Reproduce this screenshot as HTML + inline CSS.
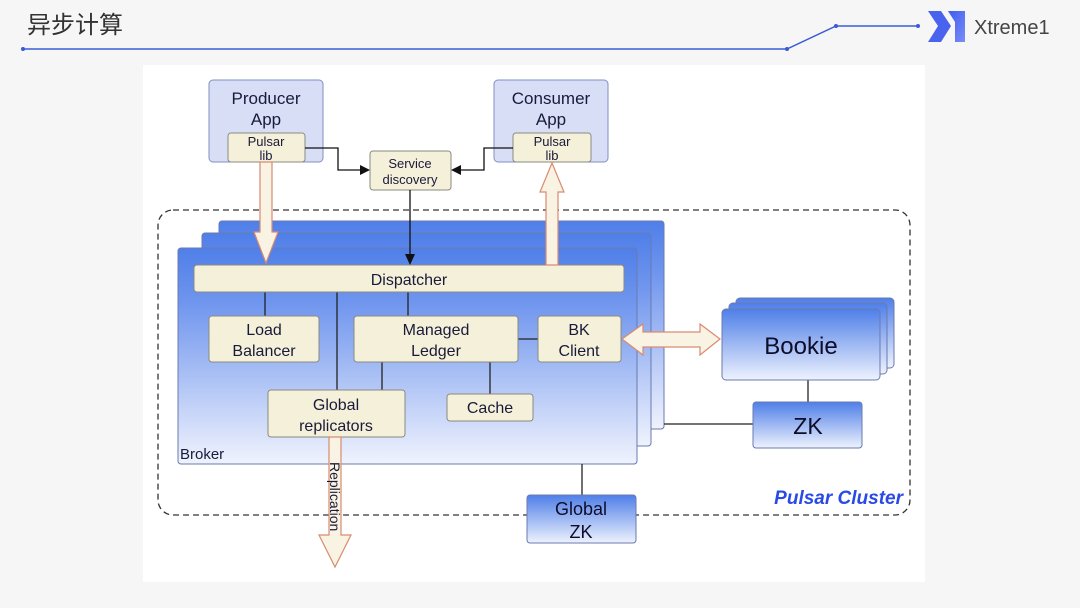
<!DOCTYPE html>
<html><head><meta charset="utf-8"><style>
html,body{margin:0;padding:0;background:#f6f6f6;}
svg{display:block;}
text{font-family:"Liberation Sans","DejaVu Sans",sans-serif;}
</style></head><body>
<svg width="1080" height="608" viewBox="0 0 1080 608" xmlns="http://www.w3.org/2000/svg">
<defs>
<linearGradient id="bl" x1="0" y1="0" x2="0" y2="1">
<stop offset="0" stop-color="#4f7fe8"/><stop offset="0.25" stop-color="#6f95ee"/><stop offset="1" stop-color="#f0f3fd"/>
</linearGradient>
<linearGradient id="bk" x1="0" y1="0" x2="0" y2="1">
<stop offset="0" stop-color="#4f7fe8"/><stop offset="1" stop-color="#eef2fd"/>
</linearGradient>
<linearGradient id="logo" x1="0" y1="0" x2="1" y2="1">
<stop offset="0" stop-color="#3d5cf0"/><stop offset="1" stop-color="#7a8cf6"/>
</linearGradient>
</defs>
<rect width="1080" height="608" fill="#f6f6f6"/>
<text x="27" y="33" font-size="24" fill="#333" style="font-family:'Noto Sans CJK SC',sans-serif">异步计算</text>
<polyline points="23,49 787,49 836,26 918,26" fill="none" stroke="#3a5bd8" stroke-width="1.5"/>
<circle cx="23" cy="49" r="2" fill="#3a5bd8"/><circle cx="787" cy="49" r="2" fill="#3a5bd8"/><circle cx="836" cy="26" r="2" fill="#3a5bd8"/><circle cx="918" cy="26" r="2" fill="#3a5bd8"/>
<path d="M928,11 L941,11 L951,26 L941,42 L928,42 L938,26 Z" fill="#4a63ee"/>
<path d="M948,11 L965,11 L965,42 L955,42 L955,22 Z" fill="url(#logo)"/>
<text x="974" y="34" font-size="20" fill="#444">Xtreme1</text>

<rect x="143" y="65" width="782" height="517" fill="#fff"/>

<rect x="158" y="210" width="752" height="305" rx="15" fill="none" stroke="#333" stroke-width="1.3" stroke-dasharray="6,4"/>
<text x="903" y="504" font-size="19" font-weight="bold" font-style="italic" fill="#2a4ae6" text-anchor="end">Pulsar Cluster</text>

<rect x="209" y="80" width="114" height="82" rx="4" fill="#d7def6" stroke="#8090c0"/>
<text x="266" y="104" font-size="17" fill="#1a1a3a" text-anchor="middle">Producer</text>
<text x="266" y="125" font-size="17" fill="#1a1a3a" text-anchor="middle">App</text>
<rect x="228" y="133" width="77" height="29" rx="3" fill="#f4f0d9" stroke="#8a8a80"/>
<text x="266" y="146" font-size="13" fill="#1a1a3a" text-anchor="middle">Pulsar</text>
<text x="266" y="160" font-size="13" fill="#1a1a3a" text-anchor="middle">lib</text>

<rect x="494" y="80" width="114" height="82" rx="4" fill="#d7def6" stroke="#8090c0"/>
<text x="551" y="104" font-size="17" fill="#1a1a3a" text-anchor="middle">Consumer</text>
<text x="551" y="125" font-size="17" fill="#1a1a3a" text-anchor="middle">App</text>
<rect x="513" y="133" width="78" height="29" rx="3" fill="#f4f0d9" stroke="#8a8a80"/>
<text x="552" y="146" font-size="13" fill="#1a1a3a" text-anchor="middle">Pulsar</text>
<text x="552" y="160" font-size="13" fill="#1a1a3a" text-anchor="middle">lib</text>

<rect x="370" y="151" width="81" height="39" rx="3" fill="#f4f0d9" stroke="#8a8a80"/>
<text x="410" y="168" font-size="13" fill="#1a1a3a" text-anchor="middle">Service</text>
<text x="410" y="184" font-size="13" fill="#1a1a3a" text-anchor="middle">discovery</text>

<polyline points="305,148 338,148 338,170 362,170" fill="none" stroke="#111" stroke-width="1.3"/>
<path d="M370,170 L360,165 L360,175 Z" fill="#111"/>
<polyline points="513,148 484,148 484,170 459,170" fill="none" stroke="#111" stroke-width="1.3"/>
<path d="M451,170 L461,165 L461,175 Z" fill="#111"/>

<rect x="219" y="221" width="445" height="208" rx="3" fill="url(#bl)" stroke="#6a7ab0"/>
<rect x="202" y="233" width="449" height="213" rx="3" fill="url(#bl)" stroke="#6a7ab0"/>
<rect x="178" y="248" width="459" height="216" rx="3" fill="url(#bl)" stroke="#6a7ab0"/>
<text x="180" y="459" font-size="15" fill="#1a1a3a">Broker</text>

<line x1="410" y1="190" x2="410" y2="256" stroke="#111" stroke-width="1.3"/>
<path d="M410,265 L405,254 L415,254 Z" fill="#111"/>

<g stroke="#222" stroke-width="1.3">
<line x1="265" y1="292" x2="265" y2="316"/>
<line x1="337" y1="292" x2="337" y2="390"/>
<line x1="408" y1="292" x2="408" y2="316"/>
<line x1="382" y1="362" x2="382" y2="390"/>
<line x1="490" y1="362" x2="490" y2="394"/>
<line x1="518" y1="339" x2="538" y2="339"/>
<line x1="664" y1="424" x2="753" y2="424"/>
<line x1="808" y1="380" x2="808" y2="402"/>
<line x1="582" y1="464" x2="582" y2="495"/>
</g>

<rect x="194" y="265" width="430" height="27" rx="3" fill="#f4f0d9" stroke="#8a8a80"/>
<text x="409" y="285" font-size="16" fill="#1a1a3a" text-anchor="middle">Dispatcher</text>

<rect x="209" y="316" width="110" height="46" rx="3" fill="#f4f0d9" stroke="#8a8a80"/>
<text x="264" y="335" font-size="16" fill="#1a1a3a" text-anchor="middle">Load</text>
<text x="264" y="356" font-size="16" fill="#1a1a3a" text-anchor="middle">Balancer</text>
<rect x="354" y="316" width="164" height="46" rx="3" fill="#f4f0d9" stroke="#8a8a80"/>
<text x="436" y="335" font-size="16" fill="#1a1a3a" text-anchor="middle">Managed</text>
<text x="436" y="356" font-size="16" fill="#1a1a3a" text-anchor="middle">Ledger</text>
<rect x="538" y="316" width="83" height="46" rx="3" fill="#f4f0d9" stroke="#8a8a80"/>
<text x="579" y="335" font-size="16" fill="#1a1a3a" text-anchor="middle">BK</text>
<text x="579" y="356" font-size="16" fill="#1a1a3a" text-anchor="middle">Client</text>
<rect x="268" y="390" width="137" height="47" rx="3" fill="#f4f0d9" stroke="#8a8a80"/>
<text x="336" y="410" font-size="16" fill="#1a1a3a" text-anchor="middle">Global</text>
<text x="336" y="431" font-size="16" fill="#1a1a3a" text-anchor="middle">replicators</text>
<rect x="447" y="394" width="86" height="27" rx="3" fill="#f4f0d9" stroke="#8a8a80"/>
<text x="490" y="413" font-size="16" fill="#1a1a3a" text-anchor="middle">Cache</text>

<rect x="736" y="298" width="158" height="70" rx="4" fill="url(#bk)" stroke="#6a7ab0"/>
<rect x="729" y="303" width="158" height="71" rx="4" fill="url(#bk)" stroke="#6a7ab0"/>
<rect x="722" y="309" width="158" height="71" rx="4" fill="url(#bk)" stroke="#6a7ab0"/>
<text x="801" y="354" font-size="24" fill="#0d0d2a" text-anchor="middle">Bookie</text>
<rect x="753" y="402" width="109" height="46" rx="3" fill="url(#bk)" stroke="#6a7ab0"/>
<text x="808" y="434" font-size="23" fill="#0d0d2a" text-anchor="middle">ZK</text>
<rect x="527" y="495" width="109" height="48" rx="3" fill="url(#bk)" stroke="#6a7ab0"/>
<text x="581" y="515" font-size="18" fill="#0d0d2a" text-anchor="middle">Global</text>
<text x="581" y="538" font-size="18" fill="#0d0d2a" text-anchor="middle">ZK</text>

<g fill="#f8f3e3" stroke="#d98a70" stroke-width="1.2">
<path d="M260,162 L272,162 L272,232 L278,232 L266,263 L254,232 L260,232 Z"/>
<path d="M546,265 L558,265 L558,192 L564,192 L552,163 L540,192 L546,192 Z"/>
<path d="M329,437 L341,437 L341,535 L351,535 L335,567 L319,535 L329,535 Z"/>
<path d="M622,339 L643,324 L643,332 L700,332 L700,324 L720,339 L700,355 L700,347 L643,347 L643,355 Z"/>
</g>
<text transform="translate(330,462) rotate(90)" font-size="14" fill="#1a1a3a">Replication</text>
</svg>
</body></html>
